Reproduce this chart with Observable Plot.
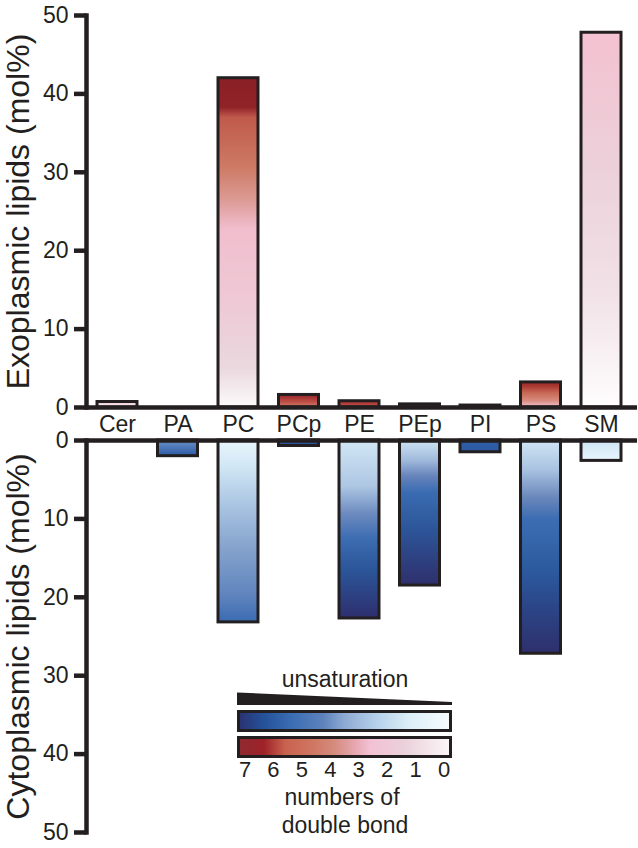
<!DOCTYPE html>
<html><head><meta charset="utf-8">
<script src="https://cdn.jsdelivr.net/npm/d3@7"></script>
<script src="https://cdn.jsdelivr.net/npm/@observablehq/plot@0.6"></script>
<style>
body{margin:0;background:#fff;}
#wrap{position:relative;width:638px;height:848px;overflow:hidden;}
#wrap > svg{display:block;}
#legend{position:absolute;left:0;top:0;pointer-events:none;}
</style></head><body><div id="wrap"></div>
<script>
// ---- data ----
const lipids = ["Cer","PA","PC","PCp","PE","PEp","PI","PS","SM"];
const exoplasmic = [0.7, 0, 42.0, 1.6, 0.8, 0.4, 0.25, 3.2, 47.8];
const cytoplasmic = [0, 2.0, 23.2, 0.7, 22.7, 18.5, 1.5, 27.2, 2.6];
const yTicks = [0,10,20,30,40,50];
const doubleBonds = [7,6,5,4,3,2,1,0];
const exoTitle = "Exoplasmic lipids (mol%)";
const cytoTitle = "Cytoplasmic lipids (mol%)";
const legendTitle = "unsaturation";
const legendCaption = ["numbers of","double bond"];

// ---- styles (gradient stops, top -> bottom of each bar) ----
const INK = "#231f20";
const FONT = "Arial, 'Liberation Sans', Helvetica, sans-serif";
const exoGrad = {
  Cer: [[0,"#efc9d5"],[1,"#fbf3f6"]],
  PA: [[0,"#ffffff"],[1,"#ffffff"]],
  PC: [[0,"#8a1f25"],[0.09,"#902328"],[0.12,"#c05a4c"],[0.27,"#cd7a64"],[0.37,"#dc9a94"],[0.46,"#f1bece"],[0.68,"#eec9d5"],[0.88,"#ead8de"],[1,"#fcfafb"]],
  PCp: [[0,"#92232a"],[0.5,"#b8483f"],[1,"#d47c6c"]],
  PE: [[0,"#9e2a2e"],[1,"#c65a4e"]],
  PEp: [[0,"#8f2428"],[1,"#b94a44"]],
  PI: [[0,"#8f2428"],[1,"#b94a44"]],
  PS: [[0,"#982629"],[0.15,"#a8362f"],[0.45,"#c96b58"],[0.75,"#d88c80"],[1,"#f3c3d2"]],
  SM: [[0,"#f4c1d1"],[0.35,"#ecd0d9"],[0.7,"#f1e2e7"],[1,"#fefdfd"]]
};
const cytoGrad = {
  Cer: [[0,"#ffffff"],[1,"#ffffff"]],
  PA: [[0,"#6a90c8"],[1,"#2c5ca6"]],
  PC: [[0,"#e9f6fc"],[0.15,"#d0e6f4"],[0.35,"#abc6e3"],[0.6,"#84a2cc"],[0.85,"#6085be"],[1,"#3b6bb2"]],
  PCp: [[0,"#3563aa"],[1,"#2a4f95"]],
  PE: [[0,"#d2e7f5"],[0.26,"#adc6e3"],[0.41,"#6e8cc0"],[0.55,"#3d6db2"],[0.73,"#2b5598"],[1,"#2e2f6e"]],
  PEp: [[0,"#cfe5f3"],[0.14,"#a0b9dc"],[0.25,"#6683bb"],[0.36,"#3a6cb2"],[0.62,"#2c5598"],[1,"#2f2f6c"]],
  PI: [[0,"#2f60a8"],[1,"#2c5aa2"]],
  PS: [[0,"#d2e6f4"],[0.14,"#a8c2e1"],[0.27,"#6a87bb"],[0.37,"#3c6db2"],[0.61,"#2c5a9f"],[0.78,"#2b4688"],[1,"#2f2f6c"]],
  SM: [[0,"#cde5f3"],[1,"#e8f6fc"]]
};
const blueLegend = [[0,"#2b3170"],[0.12,"#24529a"],[0.25,"#3a6db4"],[0.4,"#5e83bc"],[0.5,"#8eaad3"],[0.65,"#b5d0ea"],[0.8,"#dbeef8"],[1,"#f7fcfe"]];
const redLegend = [[0,"#8e2a30"],[0.12,"#9e2228"],[0.22,"#c9624f"],[0.35,"#cf7662"],[0.45,"#d58b7c"],[0.56,"#e8aab6"],[0.62,"#f3c1d3"],[0.78,"#ead0da"],[1,"#fbf7f8"]];

function addGradient(defs, id, stops, horizontal){
  const g = defs.append("linearGradient").attr("id", id)
    .attr("x1",0).attr("y1",0).attr("x2",horizontal?1:0).attr("y2",horizontal?0:1);
  stops.forEach(([o,c]) => g.append("stop").attr("offset",o).attr("stop-color",c));
}
function addDefs(svg, prefix, grads){
  const defs = d3.select(svg).insert("defs", ":first-child");
  Object.entries(grads).forEach(([k,stops]) => addGradient(defs, `${prefix}-${k}`, stops, false));
}
function thickenAxis(svg){
  const s = d3.select(svg);
  s.selectAll('g[aria-label="y-axis tick"], g[aria-label="y-axis tick"] path').attr("stroke-width", 4.5);
  s.selectAll('g[aria-label="frame"], g[aria-label="frame"] *').attr("stroke-width", 4.5);
  s.selectAll('[aria-label="frame"]').attr("stroke-width", 4.5);
}

const exoRows = lipids.map((lipid,i)=>({lipid, value: exoplasmic[i]})).filter(d=>d.value>0);
const cytoRows = lipids.map((lipid,i)=>({lipid, value: cytoplasmic[i]})).filter(d=>d.value>0);

const xScale = {type:"band", domain: lipids, range:[97,621], paddingInner:0.339, paddingOuter:0, round:false};
const svgStyle = {fontFamily: FONT, background:"transparent", overflow:"visible", color: INK};

const topPlot = Plot.plot({
  width:638, height:438, marginTop:15, marginBottom:31, marginLeft:86, marginRight:1,
  style: svgStyle,
  x: xScale,
  y: {domain:[0,50]},
  color: {type:"identity"},
  marks: [
    Plot.barY(exoRows, {x:"lipid", y:"value", fill: d=>`url(#exo-${d.lipid})`, stroke: INK, strokeWidth:3}),
    Plot.ruleY([0], {stroke: INK, strokeWidth:4.5}),
    Plot.frame({anchor:"left", stroke: INK, strokeWidth:4.5}),
    Plot.axisY({ticks: yTicks, tickSize:12, tickPadding:6, fontSize:23, strokeWidth:4.5, color: INK, label:null}),
    Plot.axisX({tickSize:0, tickPadding:8, fontSize:23, color: INK, label:null}),
    Plot.text([exoTitle], {text: d=>d, frameAnchor:"left", textAnchor:"middle", rotate:-90, dx:-68, fontSize:32, fill: INK})
  ]
});
addDefs(topPlot, "exo", exoGrad);
thickenAxis(topPlot);

const bottomPlot = Plot.plot({
  width:638, height:410, marginTop:2, marginBottom:16, marginLeft:86, marginRight:1,
  style: svgStyle,
  x: {...xScale, axis:null},
  y: {domain:[0,50], reverse:true},
  color: {type:"identity"},
  marks: [
    Plot.barY(cytoRows, {x:"lipid", y:"value", fill: d=>`url(#cyto-${d.lipid})`, stroke: INK, strokeWidth:3}),
    Plot.ruleY([0], {stroke: INK, strokeWidth:4.5}),
    Plot.frame({anchor:"left", stroke: INK, strokeWidth:4.5}),
    Plot.axisY({ticks: yTicks, tickSize:12, tickPadding:6, fontSize:23, strokeWidth:4.5, color: INK, label:null}),
    Plot.text([cytoTitle], {text: d=>d, frameAnchor:"left", textAnchor:"middle", rotate:-90, dx:-68, fontSize:32, fill: INK})
  ]
});
addDefs(bottomPlot, "cyto", cytoGrad);
thickenAxis(bottomPlot);

const wrap = document.getElementById("wrap");
wrap.appendChild(topPlot);
wrap.appendChild(bottomPlot);

// ---- legend ----
const lg = d3.select(wrap).append("svg").attr("id","legend").attr("width",638).attr("height",848)
  .style("font-family", FONT);
const ldefs = lg.append("defs");
addGradient(ldefs, "leg-blue", blueLegend, true);
addGradient(ldefs, "leg-red", redLegend, true);
const bx = d3.scaleLinear().domain([7,0]).range([245,444]);
lg.append("text").attr("x",345).attr("y",687).attr("text-anchor","middle").attr("font-size",23).attr("fill",INK).text(legendTitle);
lg.append("polygon").attr("points","237,692.5 452,702 452,705 237,705").attr("fill",INK);
lg.append("rect").attr("x",238.5).attr("y",711.5).attr("width",212).attr("height",19).attr("fill","url(#leg-blue)").attr("stroke",INK).attr("stroke-width",3);
lg.append("rect").attr("x",238.5).attr("y",737.5).attr("width",212).attr("height",19).attr("fill","url(#leg-red)").attr("stroke",INK).attr("stroke-width",3);
lg.selectAll("text.num").data(doubleBonds).join("text").attr("class","num")
  .attr("x", d=>bx(d)).attr("y",777).attr("text-anchor","middle").attr("font-size",22).attr("fill",INK).text(d=>d);
lg.append("text").attr("x",342).attr("y",805).attr("text-anchor","middle").attr("font-size",23).attr("fill",INK).text(legendCaption[0]);
lg.append("text").attr("x",345).attr("y",833).attr("text-anchor","middle").attr("font-size",23).attr("fill",INK).text(legendCaption[1]);
</script></body></html>
